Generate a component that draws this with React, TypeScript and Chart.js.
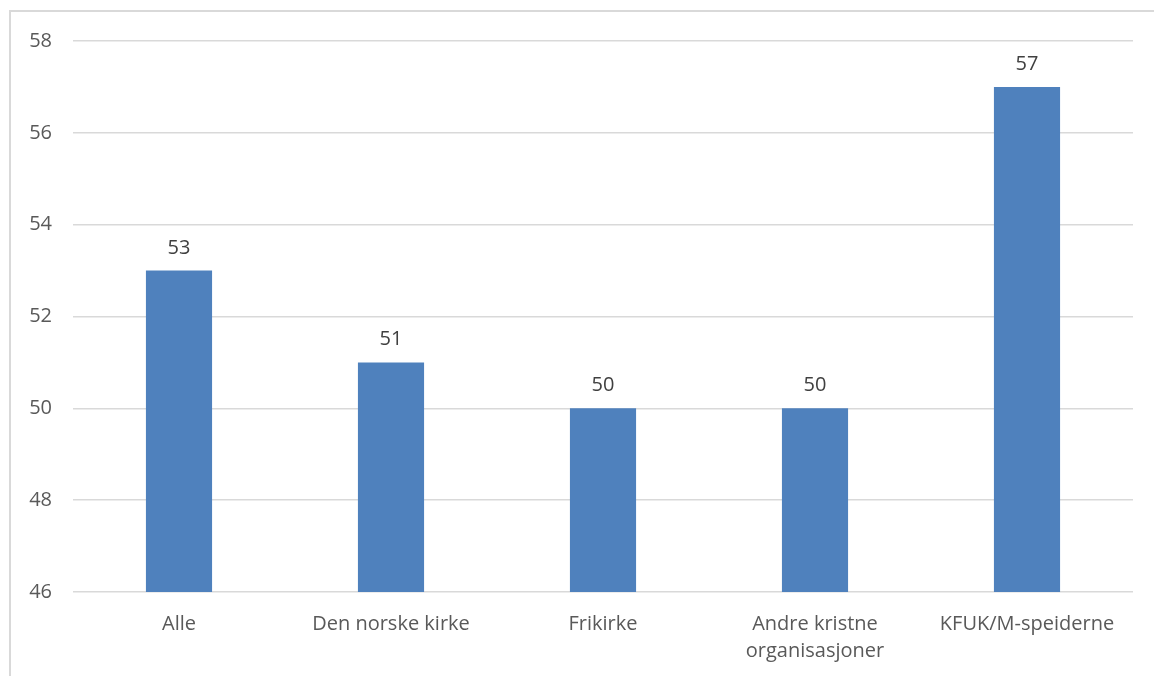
import React, { useEffect, useRef } from "react";
import { Chart, registerables } from "chart.js";

Chart.register(...registerables);

const categories: (string | string[])[] = [
  "Alle",
  "Den norske kirke",
  "Frikirke",
  ["Andre kristne", "organisasjoner"],
  "KFUK/M-speiderne",
];
const values = [53, 51, 50, 50, 57];
const yMin = 46;
const yMax = 58;
const yStep = 2;

const FONT = "'Open Sans', 'Noto Sans', sans-serif";

const frameAndLabels = {
  id: "frameAndLabels",
  beforeDraw(chart: any) {
    const ctx = chart.ctx;
    ctx.save();
    ctx.strokeStyle = "#d9d9d9";
    ctx.lineWidth = 2;
    ctx.beginPath();
    ctx.moveTo(10, chart.height + 10);
    ctx.lineTo(10, 11);
    ctx.lineTo(chart.width + 10, 11);
    ctx.stroke();
    ctx.restore();
  },
  afterDatasetsDraw(chart: any) {
    const ctx = chart.ctx;
    const meta = chart.getDatasetMeta(0);
    ctx.save();
    ctx.font = `20px ${FONT}`;
    ctx.fillStyle = "#404040";
    ctx.textAlign = "center";
    ctx.textBaseline = "alphabetic";
    meta.data.forEach((bar: any, i: number) => {
      ctx.fillText(String(chart.data.datasets[0].data[i]), bar.x, bar.y - 17);
    });
    ctx.restore();
  },
};

export default function App() {
  const ref = useRef<HTMLCanvasElement>(null);
  useEffect(() => {
    if (!ref.current) return;
    const chart = new Chart(ref.current, {
      type: "bar",
      data: {
        labels: categories,
        datasets: [
          {
            data: values,
            backgroundColor: "#4f81bd",
            categoryPercentage: 1,
            barPercentage: 0.312,
          },
        ],
      },
      options: {
        animation: false,
        responsive: false,
        maintainAspectRatio: false,
        layout: { padding: { left: 0, right: 21, top: 41, bottom: 0 } },
        plugins: {
          legend: { display: false },
          tooltip: { enabled: false },
        },
        scales: {
          x: {
            grid: { display: false, drawTicks: false },
            border: { display: false },
            ticks: {
              color: "#595959",
              font: { family: FONT, size: 20, lineHeight: 1.35 },
              padding: 19,
              maxRotation: 0,
              autoSkip: false,
            },
            afterFit(scale: any) {
              scale.height = 84;
            },
          },
          y: {
            min: yMin,
            max: yMax,
            grid: { color: "#d9d9d9", lineWidth: 1.5, drawTicks: false },
            border: { display: false },
            ticks: {
              stepSize: yStep,
              color: "#595959",
              font: { family: FONT, size: 20 },
              padding: 21,
            },
            afterFit(scale: any) {
              scale.width = 73;
            },
          },
        },
      },
      plugins: [frameAndLabels],
    });
    return () => chart.destroy();
  }, []);
  return (
    <div style={{ position: "fixed", left: 0, top: 0, width: 1154, height: 676, background: "#fff" }}>
      <canvas ref={ref} width={1154} height={676} style={{ display: "block" }} />
    </div>
  );
}
